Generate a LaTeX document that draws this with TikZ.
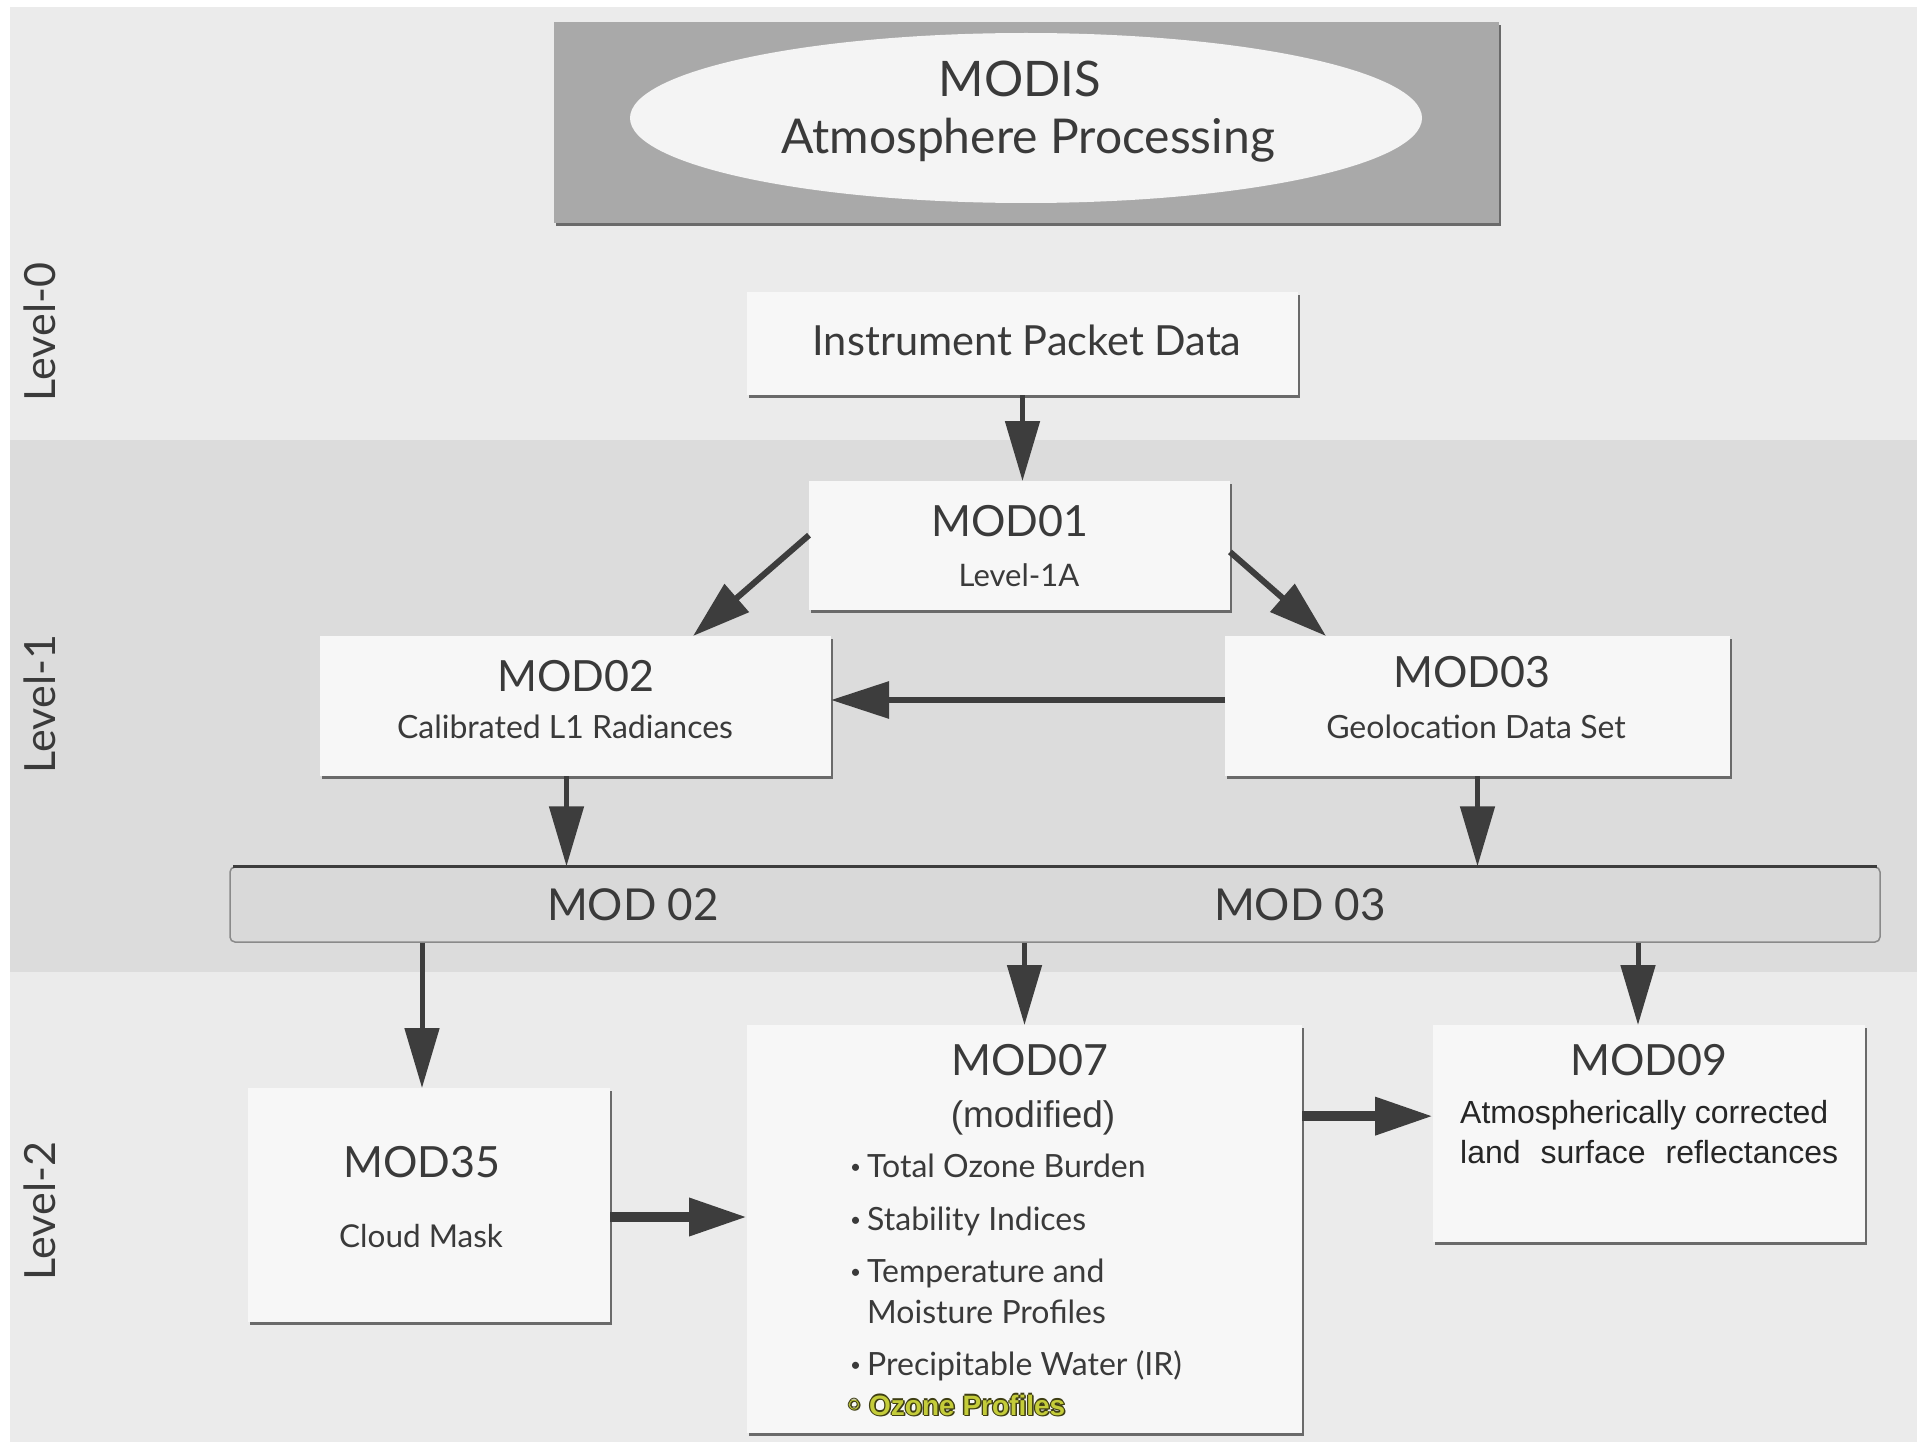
\documentclass[tikz,border=0pt]{standalone}
\usepackage{fontspec}
\setmainfont{Lato}
\newfontfamily\arialf{Liberation Sans}
\newfontfamily\dejavu{DejaVu Sans}
\usetikzlibrary{arrows.meta,shapes.geometric,calc}
\definecolor{bglight}{HTML}{EBEBEB}
\definecolor{bgdark}{HTML}{DCDCDC}
\definecolor{boxfill}{HTML}{F7F7F7}
\definecolor{titlefill}{HTML}{A9A9A9}
\definecolor{ellfill}{HTML}{F4F4F4}
\definecolor{txt}{HTML}{3A3A3A}
\definecolor{arr}{HTML}{3D3D3D}
\definecolor{shad}{HTML}{6A6A6A}
\definecolor{barfill}{HTML}{D9D9D9}
\definecolor{barline}{HTML}{8A8A8A}
\definecolor{ozone}{HTML}{C4CC3A}
\definecolor{ozshadow}{HTML}{3E3E14}
\newcommand\fsz[1]{\fontsize{#1}{#1}\selectfont}
\newcommand\bul{\makebox[17pt][l]{\raisebox{4pt}{\fsz{19}•}}}
\newcommand\ozt{\makebox[24pt][l]{\dejavu ◦}Ozone Profiles}
\tikzset{
  box/.style={fill=boxfill, inner sep=0pt, outer sep=0pt,
    preaction={fill=shad, transform canvas={xshift=2pt,yshift=-3pt}}},
  lbl/.style={inner sep=0pt, anchor=base, text=txt},
  lbw/.style={inner sep=0pt, anchor=base west, text=txt},
  lvl/.style={inner sep=0pt, anchor=base, rotate=90, text=txt, font=\fsz{43}},
  bullettext/.style={lbw, font=\fsz{32}},
  ozfont/.style={lbw, font=\arialf\bfseries\fsz{28}},
  ozline/.style={ozfont, text=ozshadow},
  thinarrow/.style={draw=arr, line width=5pt, -{Triangle[length=60pt,width=34pt]}},
  diagarrow/.style={draw=arr, line width=6pt, -{Triangle[length=58pt,width=36pt]}},
  thickarrow/.style={draw=arr, line width=10pt, -{Triangle[length=58pt,width=36pt]}},
}
\begin{document}
\begin{tikzpicture}[x=1pt,y=-1pt]
\useasboundingbox (0,0) rectangle (1917,1442);
\fill[white] (0,0) rectangle (1917,1442);
\fill[bglight] (10,7) rectangle (1917,1442);
\fill[bgdark] (10,440) rectangle (1917,972);

% title
\node[box, fill=titlefill, minimum width=945pt, minimum height=201pt] (title) at (1026.5,122.5) {};
\node[ellipse, fill=ellfill, inner sep=0pt, minimum width=792pt, minimum height=170pt] (ell) at (1026,118) {};
\node[lbl, font=\fsz{49}] (modis) at (1020,97) {MODIS};
\node[lbl, font=\fsz{48}] (atm) at (1028,154) {Atmosphere Processing};

% level labels
\node[lvl] (lv0) at (55,332) {Level-0};
\node[lvl] (lv1) at (55,704) {Level-1};
\node[lvl] (lv2) at (55,1211) {Level-2};

% level 0
\node[box, minimum width=551pt, minimum height=103pt] (ipd) at (1022.5,343.5) {};
\node[lbl, font=\fsz{41.5}] (ipdt) at (1027,355) {Instrument Packet Data};

% level 1
\node[box, minimum width=421pt, minimum height=129pt] (mod01) at (1019.5,545.5) {};
\node[lbl, font=\fsz{43}] (mod01a) at (1010,536) {MOD01};
\node[lbl, font=\fsz{31}] (mod01b) at (1019,586) {Level-1A};

\node[box, minimum width=511pt, minimum height=140pt] (mod02) at (575.5,706) {};
\node[lbl, font=\fsz{43}] (mod02a) at (576,691) {MOD02};
\node[lbl, font=\fsz{32}] (mod02b) at (565,738) {Calibrated L1 Radiances};

\node[box, minimum width=505pt, minimum height=140pt] (mod03) at (1477.5,706) {};
\node[lbl, font=\fsz{43}] (mod03a) at (1472,687) {MOD03};
\node[lbl, font=\fsz{32}] (mod03b) at (1476,738) {Geolocation Data Set};

\node[fill=barfill, draw=barline, line width=1.5pt, rounded corners=5pt, inner sep=0pt,
      minimum width=1650pt, minimum height=75pt] (bar) at (1055,904.5) {};
\draw[line width=3pt, draw=arr] ([xshift=4pt]bar.north west) -- ([xshift=-4pt]bar.north east);
\node[lbl, font=\fsz{44}] (bar02) at (633,920) {MOD 02};
\node[lbl, font=\fsz{44}] (bar03) at (1300,920) {MOD 03};

% level 2
\node[box, minimum width=362pt, minimum height=234pt] (mod35) at (429,1205) {};
\node[lbl, font=\fsz{43}] (mod35a) at (422,1177) {MOD35};
\node[lbl, font=\fsz{31.5}] (mod35b) at (421,1247) {Cloud Mask};

\node[box, minimum width=555pt, minimum height=408pt] (mod07) at (1024.5,1229) {};
\node[lbl, font=\fsz{43}] (mod07a) at (1030,1075) {MOD07};
\node[lbl, font=\arialf\fsz{37}] (mod07b) at (1033,1127) {(modified)};
\node[bullettext] (it1) at (850,1177) {\bul Total Ozone Burden};
\node[bullettext] (it2) at (850,1230) {\bul Stability Indices};
\node[bullettext] (it3) at (850,1282) {\bul Temperature and};
\node[bullettext] (it3b) at (867,1323) {Moisture Profiles};
\node[bullettext] (it4) at (850,1375) {\bul Precipitable Water (IR)};
\node[ozline] (it5a) at (846.3,1415) {\ozt};
\node[ozline] (it5b) at (843.7,1415) {\ozt};
\node[ozline] (it5c) at (845,1416.3) {\ozt};
\node[ozline] (it5d) at (845,1413.7) {\ozt};
\node[ozline] (it5e) at (846.5,1416.5) {\ozt};
\node[ozfont, text=ozone] (it5) at (845,1415) {\ozt};

\node[box, minimum width=432pt, minimum height=217pt] (mod09) at (1649,1133.5) {};
\node[lbl, font=\fsz{43}] (mod09a) at (1649,1075) {MOD09};
\node[lbw, font=\arialf\fsz{32}, text=black!85] (mod09b) at (1460,1123) {Atmospherically corrected};
\node[lbw, font=\arialf\fsz{32}, text=black!85] (mod09c) at (1460,1163) {\makebox[378pt][s]{land surface reflectances}};

% connectors
\draw[thinarrow] (ipd.south) -- (ipd.south |- mod01.north);
\draw[diagarrow] ($(mod01.north west)!0.42!(mod01.south west)$) -- ($(mod02.north west)!0.73!(mod02.north east)$);
\draw[diagarrow] ($(mod01.north east)!0.55!(mod01.south east)$) -- ($(mod03.north west)!0.2!(mod03.north east)$);
\draw[diagarrow] ([yshift=6pt]mod03.west) -- ([yshift=6pt]mod02.east);
\coordinate (p2) at ([xshift=-9pt]mod02.south);
\draw[thinarrow] (p2) -- (p2 |- bar.north);
\draw[thinarrow] (mod03.south) -- (mod03.south |- bar.north);
\coordinate (q1) at ([xshift=-7pt]mod35.north);
\draw[thinarrow] (q1 |- bar.south) -- (q1);
\draw[thinarrow] (mod07.north |- bar.south) -- (mod07.north);
\coordinate (q3) at ([xshift=-11pt]mod09.north);
\draw[thinarrow] (q3 |- bar.south) -- (q3);
\coordinate (q4) at ([yshift=-12pt]mod35.east);
\draw[thickarrow] (q4) -- (q4 -| mod07.west);
\coordinate (q5) at ($(mod09.north west)!0.42!(mod09.south west)$);
\draw[thickarrow] (mod07.east |- q5) -- (q5);
\end{tikzpicture}
\end{document}
